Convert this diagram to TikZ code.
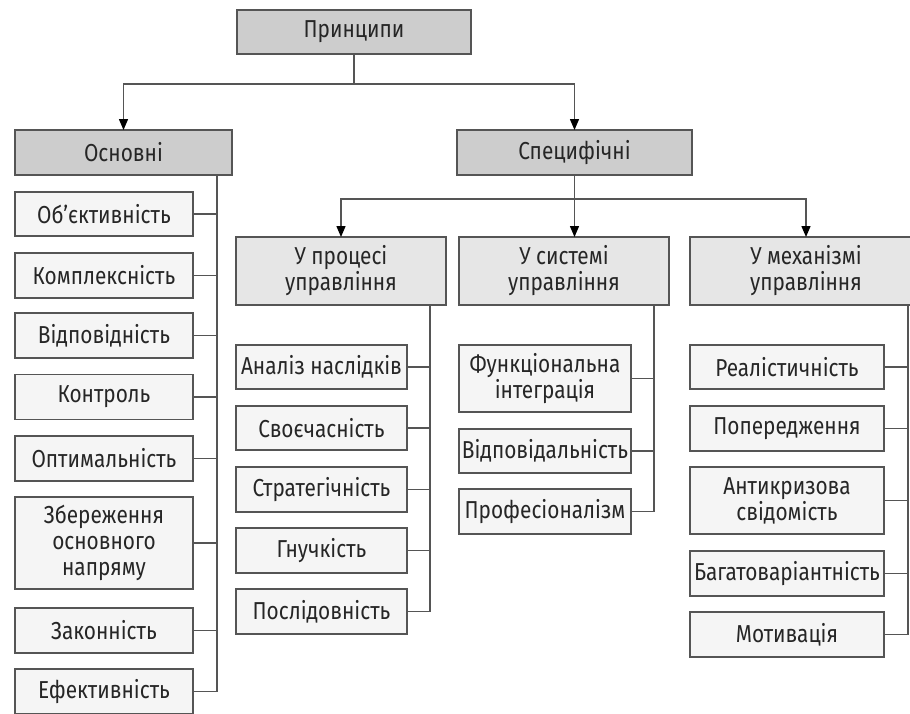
\documentclass[tikz,border=0pt]{standalone}
\usepackage{fontspec}
\setmainfont[FakeStretch=0.85]{Fira Sans}
\usetikzlibrary{arrows.meta}
\definecolor{linegray}{HTML}{555555}
\definecolor{headfill}{HTML}{CDCDCD}
\definecolor{subfill}{HTML}{E6E6E6}
\definecolor{itemfill}{HTML}{F5F5F5}
\definecolor{textgray}{HTML}{262626}
\tikzset{
  box/.style={draw=linegray, line width=1.4pt, rectangle, inner sep=0pt, outer sep=0pt,
    align=center, text=textgray, font=\fontsize{24.5}{26}\selectfont},
  head/.style={box, fill=headfill},
  sub/.style={box, fill=subfill},
  item/.style={box, fill=itemfill},
  link/.style={draw=linegray, line width=1.4pt},
  arrowlink/.style={link, -{Triangle[length=11pt,width=9pt]}, arrows={[color=black]}},
}
\begin{document}
\begin{tikzpicture}[x=1pt,y=-1pt]
\useasboundingbox (0,0) rectangle (910,713);
\fill[white] (0,0) rectangle (910,713);

% top level
\node[head, minimum width=234pt, minimum height=44pt] (pr) at (354,32) {Принципи};
\node[head, minimum width=217pt, minimum height=45pt] (osn) at (123.5,152.5) {Основні};
\node[head, minimum width=235pt, minimum height=45pt] (spec) at (574.5,152.5) {Специфічні};

% basic principles
\node[item, minimum width=178pt, minimum height=44pt] (obj) at (104,214) {Об’єктивність};
\node[item, minimum width=178pt, minimum height=45pt] (kom) at (104,275.5) {Комплексність};
\node[item, minimum width=178pt, minimum height=45pt] (vid) at (104,335.5) {Відповідність};
\node[item, minimum width=178pt, minimum height=45pt] (kon) at (104,397) {Контроль};
\node[item, minimum width=178pt, minimum height=45pt] (opt) at (104,458.5) {Оптимальність};
\node[item, minimum width=178pt, minimum height=92pt] (zbe) at (104,543) {Збереження\\основного\\напряму};
\node[item, minimum width=178pt, minimum height=45pt] (zak) at (104,630.5) {Законність};
\node[item, minimum width=178pt, minimum height=45pt] (efe) at (104,691.5) {Ефективність};

% specific principle groups
\node[sub, minimum width=210pt, minimum height=68pt] (proc) at (341,271) {У процесі\\управління};
\node[sub, minimum width=210pt, minimum height=68pt] (sys) at (564,271) {У системі\\управління};
\node[sub, minimum width=232pt, minimum height=68pt] (mech) at (806,271) {У механізмі\\управління};

% in the process of management
\node[item, minimum width=171pt, minimum height=44pt] (ana) at (321.5,367) {Аналіз наслідків};
\node[item, minimum width=171pt, minimum height=44pt] (svo) at (321.5,428) {Своєчасність};
\node[item, minimum width=171pt, minimum height=45pt] (str) at (321.5,489.5) {Стратегічність};
\node[item, minimum width=171pt, minimum height=45pt] (gnu) at (321.5,550.5) {Гнучкість};
\node[item, minimum width=171pt, minimum height=45pt] (pos) at (321.5,611.5) {Послідовність};

% in the management system
\node[item, minimum width=172pt, minimum height=67pt] (fun) at (545,378.5) {Функціональна\\інтеграція};
\node[item, minimum width=172pt, minimum height=44pt] (vdl) at (545,451) {Відповідальність};
\node[item, minimum width=172pt, minimum height=45pt] (prf) at (545,511.5) {Професіоналізм};

% in the management mechanism
\node[item, minimum width=194pt, minimum height=44pt] (rea) at (787,367) {Реалістичність};
\node[item, minimum width=194pt, minimum height=45pt] (pop) at (787,428.5) {Попередження};
\node[item, minimum width=194pt, minimum height=67pt] (ant) at (787,500.5) {Антикризова\\свідомість};
\node[item, minimum width=194pt, minimum height=45pt] (bag) at (787,573.5) {Багатоваріантність};
\node[item, minimum width=194pt, minimum height=45pt] (mot) at (787,634.5) {Мотивація};

% arrows from the root
\coordinate (pj) at (354,84);
\draw[link] (pr.south) -- (pj);
\draw[arrowlink] (pj) -| (osn.north);
\draw[arrowlink] (pj) -| (spec.north);

% arrows from the specific principles
\coordinate (sj) at (574.5,199);
\draw[link] (spec.south) -- (sj);
\draw[arrowlink] (sj) -- (sj |- sys.north);
\draw[arrowlink] (sj) -| (proc.north);
\draw[arrowlink] (sj) -| (mech.north);

% bus lines
\coordinate (bL) at (217,0);
\coordinate (bP) at (430,0);
\coordinate (bS) at (654,0);
\coordinate (bM) at (908,0);
\draw[link] (bL |- osn.south) -- (bL |- efe.east) -- (efe.east);
\foreach \n in {obj,kom,vid,kon,opt,zbe,zak}
  \draw[link] (\n.east) -- (\n.east -| bL);
\draw[link] (bP |- proc.south) -- (bP |- pos.east) -- (pos.east);
\foreach \n in {ana,svo,str,gnu}
  \draw[link] (\n.east) -- (\n.east -| bP);
\draw[link] (bS |- sys.south) -- (bS |- prf.east) -- (prf.east);
\foreach \n in {fun,vdl}
  \draw[link] (\n.east) -- (\n.east -| bS);
\draw[link] (bM |- mech.south) -- (bM |- mot.east) -- (mot.east);
\foreach \n in {rea,pop,ant,bag}
  \draw[link] (\n.east) -- (\n.east -| bM);
\end{tikzpicture}
\end{document}
